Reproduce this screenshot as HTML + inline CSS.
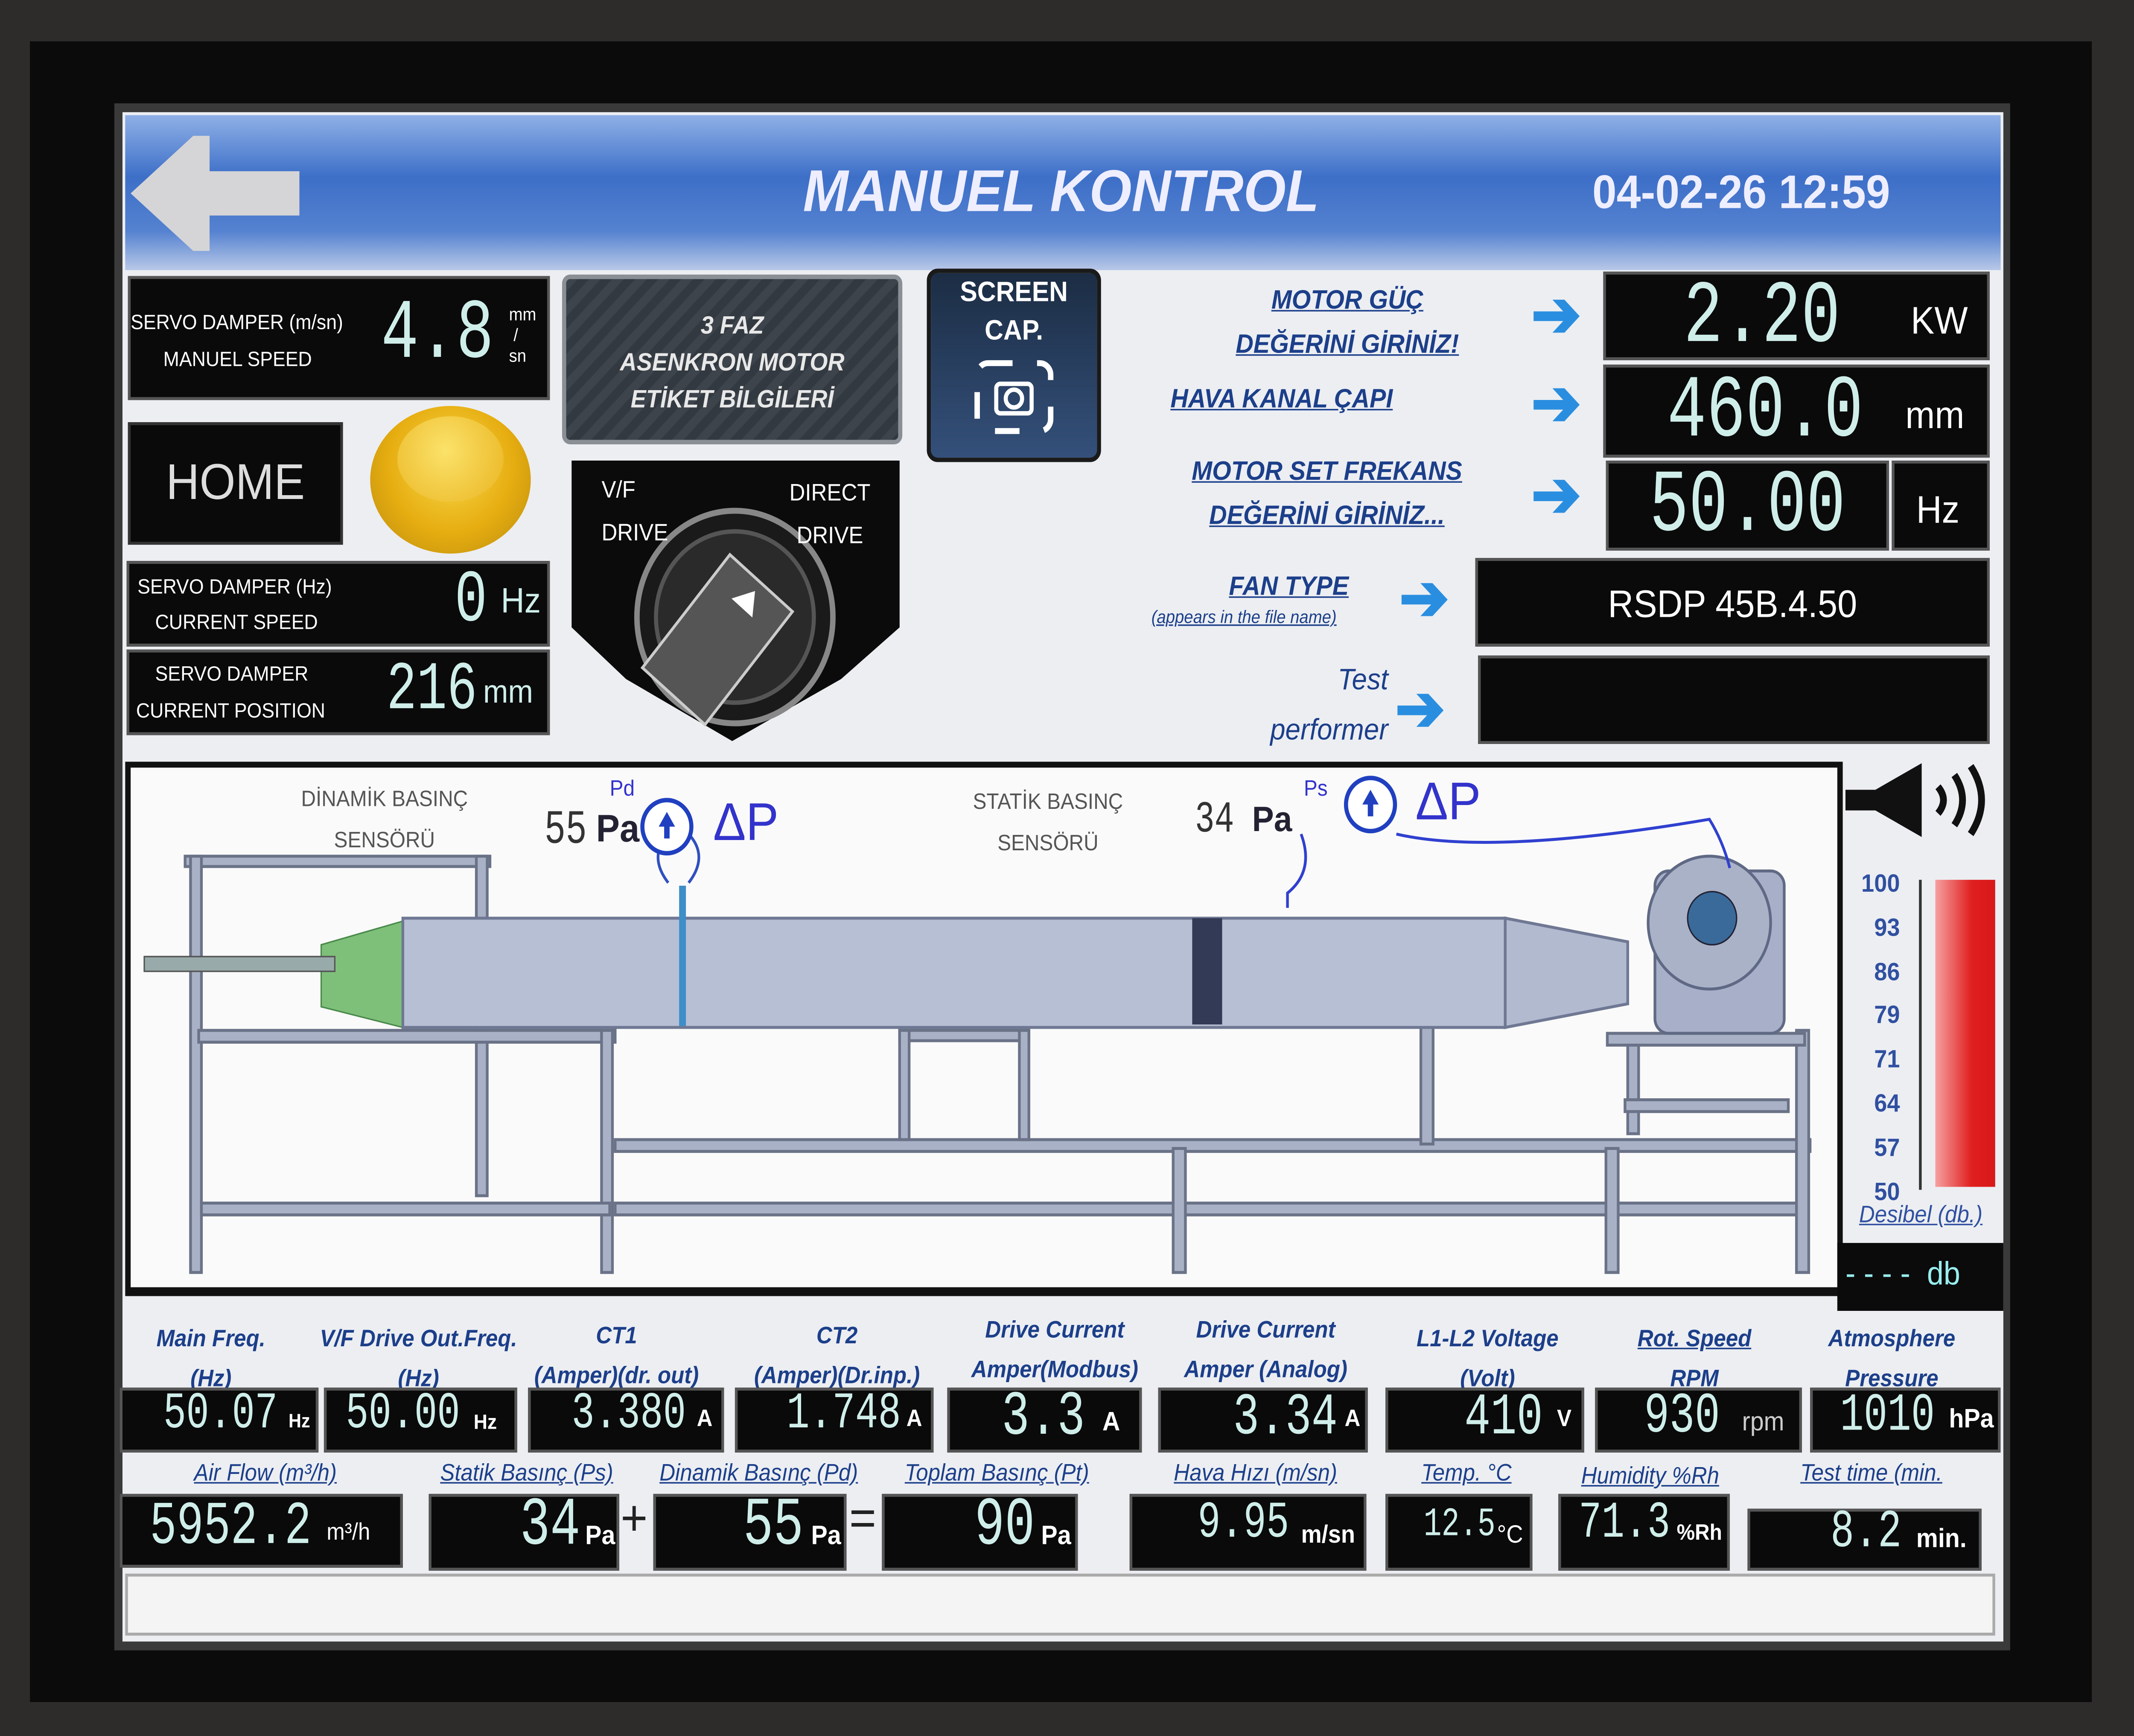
<!DOCTYPE html>
<html><head><meta charset="utf-8"><style>
html,body{margin:0;padding:0;background:#2b2a29;overflow:hidden;width:100%;height:100%}
#root{position:absolute;left:0;top:0;width:1568px;height:1176px;transform:scale(3.4579,3.4583);transform-origin:0 0;font-family:"Liberation Sans",sans-serif;background:#2e2c2b}
.a{position:absolute}
.blk{position:absolute;background:#0a0a0a;border:2px solid #555;box-sizing:border-box}
.seg{font-family:"Liberation Mono",monospace;color:#cfeeea;position:absolute;transform:scaleY(1.25);transform-origin:0 0;white-space:nowrap;line-height:1}
.lab{position:absolute;font-style:italic;font-weight:bold;color:#1c3f8a;text-align:center;text-decoration:underline;font-size:18px;white-space:nowrap}
.bl{position:absolute;font-style:italic;color:#1c3f8a;text-align:center;font-size:16px;font-weight:bold;white-space:nowrap}
.wt{color:#fff;position:absolute;white-space:nowrap}
.arr{position:absolute;color:#2a8ee0;font-size:44px;font-weight:bold}
</style></head><body><div id="root">
<div class="a" style="left:22px;top:28px;width:1515px;height:1125px;background:#0b0b0b"></div>
<div class="a" style="left:84px;top:70px;width:1393px;height:1048px;background:#3a3a3a"></div>
<div class="a" style="left:90px;top:76px;width:1382px;height:1036px;background:#eceef2"></div>
<!-- header -->
<div class="a" style="left:92px;top:78px;width:1378px;height:105px;background:linear-gradient(#8fb0e6,#3d6fc8 40%,#5582d0 75%,#b8c8e8)"></div>
<svg class="a" style="left:92px;top:88px" width="132" height="86"><polygon points="4,43 50,4 62,4 62,28 128,28 128,58 62,58 62,82 50,82" fill="#d5d5d7"/></svg>
<div class="wt" style="left:590px;top:108px;font-size:40px;font-weight:bold;font-style:italic;color:#eef">MANUEL KONTROL</div>
<div class="wt" style="left:1170px;top:112px;font-size:32px;font-weight:bold;color:#eef">04-02-26 12:59</div>
<!-- left panels -->
<div class="blk" style="left:94px;top:187px;width:310px;height:84px"></div>
<div class="wt" style="left:96px;top:210px;font-size:14px">SERVO DAMPER (m/sn)</div>
<div class="wt" style="left:120px;top:235px;font-size:14px">MANUEL SPEED</div>
<div class="seg" style="left:280px;top:198px;font-size:46px">4.8</div>
<div class="wt" style="left:374px;top:206px;font-size:12px;line-height:14px">mm<br>&nbsp;/<br>sn</div>
<div class="a" style="left:413px;top:186px;width:250px;height:115px;background:repeating-linear-gradient(135deg,#3e444c 0 6px,#333940 6px 12px);border:3px solid #8a8f96;border-radius:6px;box-sizing:border-box"></div>
<div class="wt" style="left:413px;top:208px;width:250px;text-align:center;font-size:17px;font-style:italic;font-weight:bold;line-height:25px;color:#e8e8e8">3 FAZ<br>ASENKRON MOTOR<br>ETİKET BİLGİLERİ</div>
<div class="a" style="left:681px;top:182px;width:128px;height:131px;background:linear-gradient(#1c2d44,#34507a);border:3px solid #1a1a1a;border-radius:8px;box-sizing:border-box"></div>
<div class="wt" style="left:681px;top:186px;width:128px;text-align:center;font-size:19px;font-weight:bold;line-height:26px">SCREEN<br>CAP.</div>
<svg class="a" style="left:710px;top:238px" width="70" height="62"><rect x="8" y="8" width="54" height="46" rx="8" fill="none" stroke="#fff" stroke-width="4" stroke-dasharray="18 18"/><rect x="22" y="22" width="26" height="20" rx="3" fill="none" stroke="#fff" stroke-width="3"/><circle cx="35" cy="32" r="6" fill="none" stroke="#fff" stroke-width="3"/></svg>
<div class="blk" style="left:94px;top:286px;width:158px;height:83px;border-color:#333"></div>
<div class="wt" style="left:94px;top:308px;width:158px;text-align:center;font-size:34px;color:#ddd">HOME</div>
<div class="a" style="left:272px;top:275px;width:118px;height:100px;border-radius:50%;background:radial-gradient(circle at 50% 40%,#f8d84a,#e6ad10 55%,#b88a10)"></div>
<div class="a" style="left:292px;top:282px;width:78px;height:58px;border-radius:50%;background:radial-gradient(circle at 45% 40%,#fbe26a,#eab420)"></div>
<div class="blk" style="left:93px;top:380px;width:311px;height:58px"></div>
<div class="wt" style="left:101px;top:389px;font-size:14px">SERVO DAMPER (Hz)</div>
<div class="wt" style="left:114px;top:413px;font-size:14px">CURRENT SPEED</div>
<div class="seg" style="left:334px;top:384px;font-size:40px">0</div>
<div class="seg" style="left:368px;top:396px;font-size:24px;font-family:'Liberation Sans';transform:none">Hz</div>
<div class="blk" style="left:93px;top:440px;width:311px;height:58px"></div>
<div class="wt" style="left:114px;top:448px;font-size:14px">SERVO DAMPER</div>
<div class="wt" style="left:100px;top:473px;font-size:14px">CURRENT POSITION</div>
<div class="seg" style="left:284px;top:446px;font-size:37px">216</div>
<div class="seg" style="left:355px;top:458px;font-size:22px;font-family:'Liberation Sans';transform:none">mm</div>
<!-- VF / Direct -->
<svg class="a" style="left:418px;top:310px" width="245" height="195"><polygon points="2,2 243,2 243,115 200,150 120,192 42,150 2,115" fill="#0b0b0b"/><circle cx="122" cy="108" r="72" fill="#1a1a1a" stroke="#888" stroke-width="4"/><circle cx="122" cy="108" r="58" fill="#2a2a2a" stroke="#555" stroke-width="3"/><g transform="rotate(40 122 108)"><rect x="92" y="78" width="60" height="100" fill="#555" stroke="#ccc" stroke-width="2"/><polygon points="122,85 132,100 112,100" fill="#fff"/></g></svg>
<div class="wt" style="left:442px;top:318px;font-size:16px;line-height:29px">V/F<br>DRIVE</div>
<div class="wt" style="left:580px;top:320px;font-size:16px;line-height:29px;text-align:center">DIRECT<br>DRIVE</div>
<!-- right inputs -->
<div class="lab" style="left:860px;top:188px;width:260px;line-height:30px">MOTOR GÜÇ<br>DEĞERİNİ GİRİNİZ!</div>
<div class="lab" style="left:860px;top:260px;width:140px">HAVA KANAL ÇAPI</div>
<div class="lab" style="left:850px;top:304px;width:250px;line-height:30px">MOTOR SET FREKANS<br>DEĞERİNİ GİRİNİZ...</div>
<div class="lab" style="left:880px;top:387px;width:134px">FAN TYPE</div>
<div class="a" style="left:846px;top:411px;font-size:12px;font-style:italic;color:#1c3f8a;text-decoration:underline;white-space:nowrap">(appears in the file name)</div>
<div class="bl" style="left:900px;top:444px;width:120px;font-size:20px;font-weight:normal;line-height:34px;text-align:right">Test<br>performer</div>
<div class="arr" style="left:1125px;top:188px">➔</div>
<div class="arr" style="left:1125px;top:248px">➔</div>
<div class="arr" style="left:1125px;top:310px">➔</div>
<div class="arr" style="left:1028px;top:380px">➔</div>
<div class="arr" style="left:1025px;top:455px">➔</div>
<div class="blk" style="left:1178px;top:184px;width:284px;height:60px"></div>
<div class="seg" style="left:1237px;top:186px;font-size:48px">2.20</div>
<div class="wt" style="left:1404px;top:202px;font-size:26px">KW</div>
<div class="blk" style="left:1178px;top:247px;width:284px;height:63px"></div>
<div class="seg" style="left:1225px;top:250px;font-size:48px">460.0</div>
<div class="wt" style="left:1400px;top:266px;font-size:26px">mm</div>
<div class="blk" style="left:1180px;top:312px;width:208px;height:61px"></div>
<div class="seg" style="left:1212px;top:314px;font-size:48px">50.00</div>
<div class="blk" style="left:1390px;top:312px;width:72px;height:61px"></div>
<div class="wt" style="left:1408px;top:330px;font-size:26px">Hz</div>
<div class="blk" style="left:1084px;top:378px;width:378px;height:60px"></div>
<div class="wt" style="left:1084px;top:394px;width:378px;text-align:center;font-size:26px">RSDP 45B.4.50</div>
<div class="blk" style="left:1086px;top:444px;width:376px;height:60px"></div>
<!-- diagram -->
<div class="a" style="left:92px;top:516px;width:1262px;height:362px;background:#111"></div>
<div class="a" style="left:96px;top:520px;width:1254px;height:352px;background:#fafafa"></div>
<svg class="a" style="left:96px;top:520px" width="1254" height="352">
<g fill="#a9b1c6" stroke="#6a7288" stroke-width="2">
<rect x="40" y="60" width="224" height="7"/><rect x="44" y="60" width="8" height="282"/><rect x="254" y="60" width="8" height="230"/>
<rect x="50" y="178" width="306" height="8"/><rect x="346" y="178" width="8" height="164"/>
<rect x="52" y="295" width="300" height="8"/><rect x="356" y="252" width="878" height="8"/><rect x="356" y="295" width="870" height="8"/>
<rect x="766" y="258" width="9" height="84"/><rect x="1084" y="258" width="9" height="84"/><rect x="1224" y="178" width="9" height="164"/>
<rect x="565" y="178" width="95" height="7"/><rect x="565" y="178" width="7" height="74"/><rect x="653" y="178" width="7" height="74"/>
<rect x="948" y="175" width="9" height="80"/><rect x="1085" y="180" width="145" height="8"/><rect x="1100" y="188" width="8" height="60"/><rect x="1098" y="225" width="120" height="8"/>
</g>
<polygon points="140,120 200,104 200,176 140,162" fill="#7ec07a" stroke="#4a8a4a"/>
<rect x="10" y="128" width="140" height="10" fill="#9aa" stroke="#555"/>
<rect x="200" y="102" width="810" height="74" fill="#b7bfd5" stroke="#6f7893" stroke-width="2"/>
<polygon points="1010,102 1100,118 1100,160 1010,176" fill="#b2bad0" stroke="#6f7893" stroke-width="2"/>
<rect x="780" y="102" width="22" height="72" fill="#333a55"/>
<rect x="1120" y="70" width="95" height="110" rx="10" fill="#a7b0c8" stroke="#606a84" stroke-width="2"/>
<circle cx="1160" cy="105" r="45" fill="#aab2c8" stroke="#5f6985" stroke-width="2"/>
<circle cx="1162" cy="102" r="18" fill="#3a6a9a" stroke="#223"/>
<path d="M395,78 Q380,60 395,45 M410,78 Q425,60 410,45" stroke="#3050c0" stroke-width="2" fill="none"/>
<rect x="403" y="80" width="5" height="95" fill="#3e8ec8"/>
<path d="M850,95 L850,85 Q870,70 860,45 M930,45 Q1000,60 1160,35 Q1170,50 1175,68" stroke="#3040d0" stroke-width="2" fill="none"/>
<circle cx="394" cy="40" r="18" fill="#fff" stroke="#2040c0" stroke-width="3"/><polygon points="394,30 400,40 388,40" fill="#2040c0"/><rect x="392" y="38" width="4" height="10" fill="#2040c0"/>
<circle cx="911" cy="25" r="18" fill="#fff" stroke="#2040c0" stroke-width="3"/><polygon points="911,15 917,25 905,25" fill="#2040c0"/><rect x="909" y="23" width="4" height="10" fill="#2040c0"/>
</svg>
<div class="a" style="left:200px;top:528px;width:165px;text-align:center;font-size:15px;color:#555;line-height:28px">DİNAMİK BASINÇ<br>SENSÖRÜ</div>
<div class="a" style="left:690px;top:530px;width:160px;text-align:center;font-size:15px;color:#555;line-height:28px">STATİK BASINÇ<br>SENSÖRÜ</div>
<div class="seg" style="left:400px;top:546px;font-size:26px;color:#333">55</div>
<div class="a" style="left:438px;top:546px;font-size:26px;color:#223;font-weight:bold">Pa</div>
<div class="a" style="left:448px;top:526px;font-size:15px;color:#33c">Pd</div>
<div class="a" style="left:524px;top:536px;font-size:36px;color:#33c">ΔP</div>
<div class="seg" style="left:878px;top:542px;font-size:24px;color:#333">34</div>
<div class="a" style="left:920px;top:542px;font-size:24px;color:#223;font-weight:bold">Pa</div>
<div class="a" style="left:958px;top:526px;font-size:15px;color:#33c">Ps</div>
<div class="a" style="left:1040px;top:522px;font-size:36px;color:#33c">ΔP</div>
<!-- decibel -->
<svg class="a" style="left:1352px;top:515px" width="120" height="60"><polygon points="4,20 26,20 60,2 60,52 26,34 4,34" fill="#111"/><path d="M72,18 Q80,27 72,36 M84,10 Q96,27 84,44 M96,4 Q112,27 96,50" stroke="#111" stroke-width="5" fill="none"/></svg>
<div class="a" style="left:1422px;top:596px;width:44px;height:208px;background:linear-gradient(90deg,#f6a0a0,#e02020 60%,#d81818)"></div>
<div class="a" style="left:1410px;top:596px;width:2px;height:210px;background:#333"></div>
<div class="a" style="left:1356px;top:584px;width:40px;text-align:right;font-size:17px;font-weight:bold;color:#3050a0;line-height:29.8px">100<br>93<br>86<br>79<br>71<br>64<br>57<br>50</div>
<div class="a" style="left:1366px;top:815px;font-size:16px;font-style:italic;color:#3050a0;text-decoration:underline;white-space:nowrap">Desibel (db.)</div>
<div class="a" style="left:1350px;top:842px;width:122px;height:46px;background:#0b0b0b"></div>
<div class="a" style="left:1356px;top:850px;font-size:22px;color:#9ee;white-space:nowrap">- - - -&nbsp;&nbsp;db</div>
<!-- bottom row 1 labels -->
<div class="bl" style="left:95px;top:894px;width:120px;line-height:27px">Main Freq.<br>(Hz)</div>
<div class="bl" style="left:225px;top:894px;width:165px;line-height:27px">V/F Drive Out.Freq.<br>(Hz)</div>
<div class="bl" style="left:378px;top:892px;width:150px;line-height:27px">CT1<br>(Amper)(dr. out)</div>
<div class="bl" style="left:540px;top:892px;width:150px;line-height:27px">CT2<br>(Amper)(Dr.inp.)</div>
<div class="bl" style="left:700px;top:888px;width:150px;line-height:27px">Drive Current<br>Amper(Modbus)</div>
<div class="bl" style="left:855px;top:888px;width:150px;line-height:27px">Drive Current<br>Amper (Analog)</div>
<div class="bl" style="left:1018px;top:894px;width:150px;line-height:27px">L1-L2 Voltage<br>(Volt)</div>
<div class="bl" style="left:1175px;top:894px;width:140px;line-height:27px;text-decoration:underline">Rot. Speed<br>RPM</div>
<div class="bl" style="left:1320px;top:894px;width:140px;line-height:27px">Atmosphere<br>Pressure</div>
<div class="blk" style="left:88px;top:940px;width:146px;height:44px"></div><div class="seg" style="left:120px;top:942px;font-size:28px">50.07</div><div class="wt" style="left:212px;top:955px;font-size:13px;font-weight:bold">Hz</div>
<div class="blk" style="left:238px;top:940px;width:142px;height:44px"></div><div class="seg" style="left:254px;top:942px;font-size:28px">50.00</div><div class="wt" style="left:348px;top:955px;font-size:14px;font-weight:bold">Hz</div>
<div class="blk" style="left:388px;top:940px;width:144px;height:44px"></div><div class="seg" style="left:420px;top:942px;font-size:28px">3.380</div><div class="wt" style="left:512px;top:953px;font-size:16px;font-weight:bold">A</div>
<div class="blk" style="left:540px;top:940px;width:146px;height:44px"></div><div class="seg" style="left:578px;top:942px;font-size:28px">1.748</div><div class="wt" style="left:666px;top:953px;font-size:16px;font-weight:bold">A</div>
<div class="blk" style="left:696px;top:940px;width:143px;height:44px"></div><div class="seg" style="left:736px;top:940px;font-size:34px">3.3</div><div class="wt" style="left:810px;top:953px;font-size:18px;font-weight:bold">A</div>
<div class="blk" style="left:851px;top:940px;width:154px;height:44px"></div><div class="seg" style="left:906px;top:941px;font-size:32px">3.34</div><div class="wt" style="left:988px;top:953px;font-size:16px;font-weight:bold">A</div>
<div class="blk" style="left:1018px;top:940px;width:146px;height:44px"></div><div class="seg" style="left:1076px;top:941px;font-size:32px">410</div><div class="wt" style="left:1144px;top:953px;font-size:16px;font-weight:bold">V</div>
<div class="blk" style="left:1172px;top:940px;width:152px;height:44px"></div><div class="seg" style="left:1208px;top:941px;font-size:31px">930</div><div class="wt" style="left:1280px;top:953px;font-size:18px;color:#ccc">rpm</div>
<div class="blk" style="left:1330px;top:940px;width:140px;height:44px"></div><div class="seg" style="left:1352px;top:941px;font-size:29px">1010</div><div class="wt" style="left:1432px;top:951px;font-size:18px;font-weight:bold">hPa</div>
<!-- bottom row 2 -->
<div class="bl" style="left:120px;top:990px;width:150px;text-decoration:underline;font-weight:normal">Air Flow (m³/h)</div>
<div class="bl" style="left:312px;top:990px;width:150px;text-decoration:underline;font-weight:normal">Statik Basınç (Ps)</div>
<div class="bl" style="left:470px;top:990px;width:175px;text-decoration:underline;font-weight:normal">Dinamik Basınç (Pd)</div>
<div class="bl" style="left:650px;top:990px;width:165px;text-decoration:underline;font-weight:normal">Toplam Basınç (Pt)</div>
<div class="bl" style="left:845px;top:990px;width:155px;text-decoration:underline;font-weight:normal">Hava Hızı (m/sn)</div>
<div class="bl" style="left:1025px;top:990px;width:105px;text-decoration:underline;font-weight:normal">Temp. °C</div>
<div class="bl" style="left:1150px;top:992px;width:125px;text-decoration:underline;font-weight:normal">Humidity %Rh</div>
<div class="bl" style="left:1300px;top:990px;width:150px;text-decoration:underline;font-weight:normal">Test time (min.</div>
<div class="blk" style="left:88px;top:1012px;width:208px;height:50px"></div><div class="seg" style="left:110px;top:1014px;font-size:33px">5952.2</div><div class="wt" style="left:240px;top:1030px;font-size:16px">m³/h</div>
<div class="blk" style="left:315px;top:1012px;width:140px;height:52px"></div><div class="seg" style="left:382px;top:1012px;font-size:37px">34</div><div class="wt" style="left:430px;top:1030px;font-size:18px;font-weight:bold">Pa</div>
<div class="a" style="left:456px;top:1010px;font-size:34px;color:#222">+</div>
<div class="blk" style="left:480px;top:1012px;width:142px;height:52px"></div><div class="seg" style="left:546px;top:1012px;font-size:37px">55</div><div class="wt" style="left:596px;top:1030px;font-size:18px;font-weight:bold">Pa</div>
<div class="a" style="left:624px;top:1010px;font-size:34px;color:#222">=</div>
<div class="blk" style="left:648px;top:1012px;width:144px;height:52px"></div><div class="seg" style="left:716px;top:1012px;font-size:37px">90</div><div class="wt" style="left:765px;top:1030px;font-size:18px;font-weight:bold">Pa</div>
<div class="blk" style="left:830px;top:1012px;width:174px;height:52px"></div><div class="seg" style="left:880px;top:1016px;font-size:28px">9.95</div><div class="wt" style="left:956px;top:1030px;font-size:17px;font-weight:bold">m/sn</div>
<div class="blk" style="left:1018px;top:1012px;width:108px;height:52px"></div><div class="seg" style="left:1046px;top:1020px;font-size:22px">12.5</div><div class="wt" style="left:1100px;top:1030px;font-size:17px">°C</div>
<div class="blk" style="left:1145px;top:1012px;width:126px;height:52px"></div><div class="seg" style="left:1160px;top:1016px;font-size:28px">71.3</div><div class="wt" style="left:1232px;top:1030px;font-size:15px;font-weight:bold">%Rh</div>
<div class="blk" style="left:1284px;top:1022px;width:172px;height:42px"></div><div class="seg" style="left:1345px;top:1020px;font-size:29px">8.2</div><div class="wt" style="left:1408px;top:1032px;font-size:18px;font-weight:bold">min.</div>
<div class="a" style="left:92px;top:1066px;width:1374px;height:42px;background:#f4f4f4;border:2px solid #aaa;box-sizing:border-box"></div>
</div>
<script>
(function(){function f(){var w=window.innerWidth||document.documentElement.clientWidth,h=window.innerHeight||document.documentElement.clientHeight;if(w&&h){document.getElementById('root').style.transform='scale('+(w/1568)+','+(h/1176)+')';}}f();window.addEventListener('resize',f);})();
</script>
</body></html>
